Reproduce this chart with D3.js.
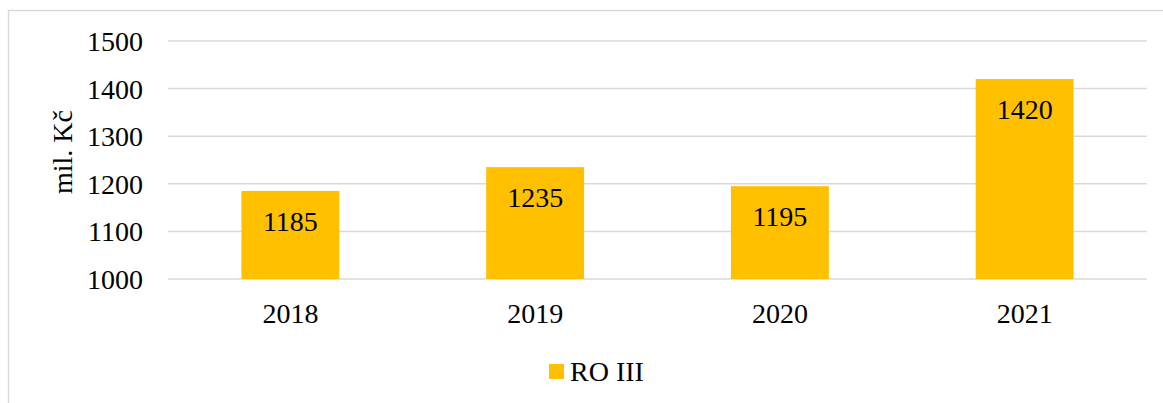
<!DOCTYPE html>
<html>
<head>
<meta charset="utf-8">
<script src="https://cdn.jsdelivr.net/npm/d3@7/dist/d3.min.js"></script>
<style>
  body { margin: 0; background: #fff; }
  svg text { font-family: "Liberation Serif", "Times New Roman", Times, "DejaVu Serif", serif; }
</style>
</head>
<body>
<svg id="chart"></svg>
<script>
const years = ["2018", "2019", "2020", "2021"];
const values = [1185, 1235, 1195, 1420];
const yTicks = [1000, 1100, 1200, 1300, 1400, 1500];
const seriesName = "RO III";
const yTitle = "mil. Kč";

const width = 1163, height = 403;
const margin = { top: 41, right: 16, bottom: 124, left: 168 };
const barColor = "#FFC000";
const gridColor = "#d9d9d9";

const svg = d3.select("#chart").attr("width", width).attr("height", height);

// outer frame (only top and left edges fall inside the picture)
svg.append("rect")
  .attr("x", 8.5).attr("y", 10.5)
  .attr("width", width + 20).attr("height", height + 20)
  .attr("fill", "none").attr("stroke", gridColor).attr("stroke-width", 1.5);

const innerW = width - margin.left - margin.right;
const innerH = height - margin.top - margin.bottom;

const chart = svg.append("g")
  .attr("transform", `translate(${margin.left}, ${margin.top})`);

const x = d3.scaleBand().domain(years).range([0, innerW]).paddingInner(0.6).paddingOuter(0.3);
const y = d3.scaleLinear().domain([1000, 1500]).range([innerH, 0]);

// gridlines
chart.append("g")
  .selectAll("line")
  .data(yTicks)
  .join("line")
  .attr("x1", 0).attr("x2", innerW)
  .attr("y1", d => y(d)).attr("y2", d => y(d))
  .attr("stroke", gridColor).attr("stroke-width", 1.5);

// y axis labels
const yAxis = d3.axisLeft(y).tickValues(yTicks).tickFormat(d3.format("d")).tickSize(0).tickPadding(25);
chart.append("g").call(yAxis)
  .attr("font-family", null)
  .call(g => g.select(".domain").remove())
  .selectAll("text")
  .attr("font-size", 28).attr("fill", "#000").attr("dy", "0.34em");

// bars
chart.selectAll("rect.bar")
  .data(values)
  .join("rect")
  .attr("class", "bar")
  .attr("x", (d, i) => x(years[i]))
  .attr("y", d => y(d))
  .attr("width", x.bandwidth())
  .attr("height", d => y(1000) - y(d))
  .attr("fill", barColor);

// value labels
chart.selectAll("text.val")
  .data(values)
  .join("text")
  .attr("class", "val")
  .attr("x", (d, i) => x(years[i]) + x.bandwidth() / 2)
  .attr("y", d => y(d) + 40)
  .attr("text-anchor", "middle")
  .attr("font-size", 28).attr("fill", "#000")
  .text(d => d);

// x axis labels
const xAxis = d3.axisBottom(x).tickSize(0).tickPadding(24);
chart.append("g")
  .attr("transform", `translate(0, ${innerH})`)
  .call(xAxis)
  .attr("font-family", null)
  .call(g => g.select(".domain").remove())
  .selectAll("text")
  .attr("font-size", 28).attr("fill", "#000");

// y title
svg.append("text")
  .attr("transform", `translate(72, 152) rotate(-90)`)
  .attr("text-anchor", "middle")
  .attr("font-size", 28).attr("fill", "#000")
  .text(yTitle);

// legend
const legend = svg.append("g").attr("transform", "translate(549, 364)");
legend.append("rect").attr("width", 15).attr("height", 15).attr("fill", barColor);
legend.append("text").attr("x", 21).attr("y", 16.5)
  .attr("font-size", 28).attr("fill", "#000").text(seriesName);
</script>
</body>
</html>
